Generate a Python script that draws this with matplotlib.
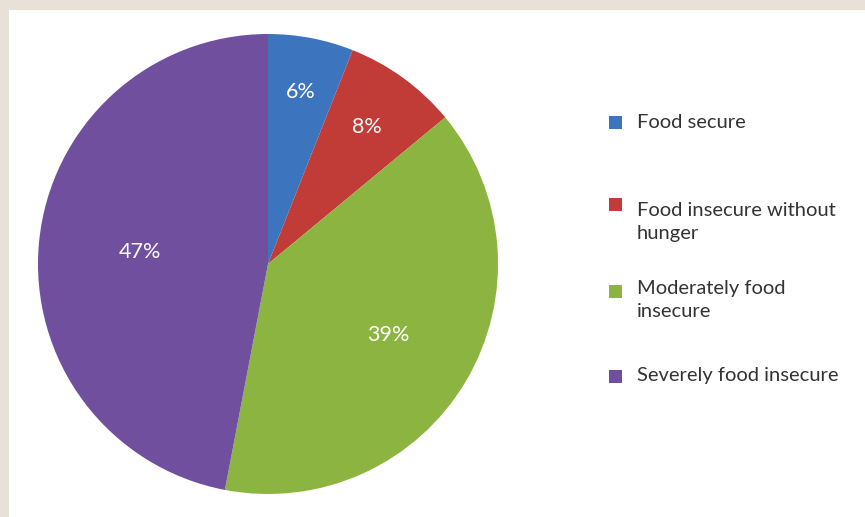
import matplotlib
matplotlib.use("Agg")
import matplotlib.pyplot as plt
from matplotlib.patches import Rectangle
import numpy as np

categories = ["Food secure", "Food insecure without\nhunger",
              "Moderately food\ninsecure", "Severely food insecure"]
shares = [6, 8, 39, 47]
colors = ["#3C74BE", "#C23C37", "#8CB441", "#70509E"]
label_dist = [0.76, 0.735, 0.61, 0.56]

W, H = 865, 517
fig = plt.figure(figsize=(W / 100, H / 100), dpi=100)
fig.patch.set_facecolor("#E8E1D7")

# white panel inside the beige frame (frame on top and left only)
fig.patches.append(Rectangle((9 / W, 0), 1 - 9 / W, 1 - 10 / H,
                             transform=fig.transFigure, facecolor="white",
                             edgecolor="none", zorder=-5))

cx, cy, r = 268, 264, 230
ax = fig.add_axes([(cx - r) / W, (H - cy - r) / H, 2 * r / W, 2 * r / H])
ax.set_zorder(2)
ax.set_facecolor("none")
wedges, _ = ax.pie(shares, colors=colors, startangle=90, counterclock=False,
                   radius=1.0, wedgeprops=dict(linewidth=0))
ax.set_xlim(-1, 1)
ax.set_ylim(-1, 1)
ax.set_aspect("equal")
ax.axis("off")

font = dict(family=["Lato", "DejaVu Sans"], weight="normal")
for w, v, d in zip(wedges, shares, label_dist):
    ang = np.deg2rad((w.theta1 + w.theta2) / 2)
    ax.text(d * np.cos(ang), d * np.sin(ang), f"{v}%", color="white",
            fontsize=15.5, ha="center", va="center", zorder=5, **font)

# legend
lfont = dict(family=["Lato", "DejaVu Sans"], weight="normal")
marker_y = [122, 204, 291, 376]
text_y = [124, 212, 290, 377]
for lab, col, my, ty in zip(categories, colors, marker_y, text_y):
    s = 13
    fig.patches.append(Rectangle((609 / W, (H - my - s / 2) / H), s / W, s / H,
                                 transform=fig.transFigure, facecolor=col,
                                 edgecolor="none", zorder=3))
    fig.text(637 / W, (H - ty + 10) / H, lab, ha="left", va="top",
             fontsize=14.5, color="#333333", linespacing=1.45, zorder=3,
             **lfont)

fig.savefig("out.png", dpi=100, facecolor=fig.get_facecolor())
